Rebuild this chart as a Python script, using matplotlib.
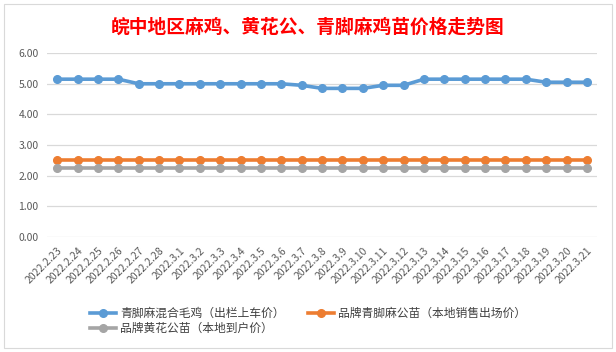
import matplotlib
matplotlib.use("Agg")
import matplotlib.pyplot as plt
from matplotlib.patches import Rectangle

plt.rcParams["font.family"] = ["Noto Sans CJK SC", "DejaVu Sans"]

dates = ["2022.2.23", "2022.2.24", "2022.2.25", "2022.2.26", "2022.2.27", "2022.2.28",
         "2022.3.1", "2022.3.2", "2022.3.3", "2022.3.4", "2022.3.5", "2022.3.6",
         "2022.3.7", "2022.3.8", "2022.3.9", "2022.3.10", "2022.3.11", "2022.3.12",
         "2022.3.13", "2022.3.14", "2022.3.15", "2022.3.16", "2022.3.17", "2022.3.18",
         "2022.3.19", "2022.3.20", "2022.3.21"]
mixed_chicken = [5.15, 5.15, 5.15, 5.15, 5.00, 5.00, 5.00, 5.00, 5.00, 5.00, 5.00, 5.00,
                 4.95, 4.85, 4.85, 4.85, 4.95, 4.95, 5.15, 5.15, 5.15, 5.15, 5.15, 5.15,
                 5.05, 5.05, 5.05]
qingjiao_chick = [2.50] * 27
huanghua_chick = [2.25] * 27

series_names = ["青脚麻混合毛鸡（出栏上车价）", "品牌青脚麻公苗（本地销售出场价）",
                "品牌黄花公苗（本地到户价）"]
colors = ["#5B9BD5", "#ED7D31", "#A5A5A5"]

fig = plt.figure(figsize=(6.16, 3.52), dpi=100)
# chart-area border
fig.patches.append(Rectangle((0.006, 0.01), 0.988, 0.98, transform=fig.transFigure,
                             fill=False, edgecolor="#d9d9d9", linewidth=0.8))
ax = fig.add_axes([0.0763, 0.327, 0.893, 0.522])

x = range(len(dates))
lines = []
for vals, c, name in zip([mixed_chicken, qingjiao_chick, huanghua_chick], colors, series_names):
    ln, = ax.plot(x, vals, color=c, linewidth=2.6, marker="o", markersize=5.5,
                  label=name, zorder=3)
    lines.append(ln)

ax.set_xlim(-0.5, len(dates) - 0.5)
ax.set_ylim(0, 6)
ax.set_yticks([0, 1, 2, 3, 4, 5, 6])
ax.set_yticklabels([f"{v:.2f}" for v in range(7)])
ax.set_xticks(list(x))
ax.set_xticklabels(dates, rotation=45, ha="right", va="top", rotation_mode="anchor")
ax.tick_params(axis="y", length=0, labelsize=7.5, colors="#595959", pad=6)
ax.tick_params(axis="x", length=0, labelsize=7.5, colors="#595959", pad=6)
ax.grid(axis="y", color="#d9d9d9", linewidth=0.9)
ax.set_axisbelow(True)
for s in ax.spines.values():
    s.set_visible(False)

fig.text(0.5, 0.922, "皖中地区麻鸡、黄花公、青脚麻鸡苗价格走势图", color="red",
         fontsize=13.5, fontweight="bold", ha="center", va="center")

# column-wise fill, so order gives rows: blue|orange, gray
fig.legend([lines[0], lines[2], lines[1]],
           [series_names[0], series_names[2], series_names[1]],
           ncol=2, loc="center", bbox_to_anchor=(0.5, 0.088), frameon=False,
           fontsize=8.5, labelcolor="#404040", handlelength=2.2,
           columnspacing=2.0, labelspacing=0.2, handletextpad=0.3)

fig.savefig("out.png", dpi=100)
